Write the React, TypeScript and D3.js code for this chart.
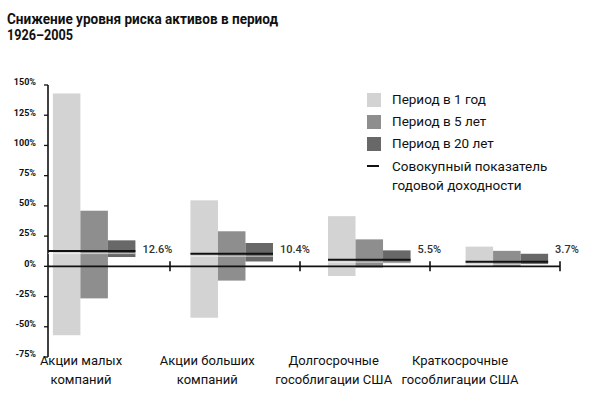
import React from "react";
import * as d3 from "d3";

const categories = ["small", "large", "longgov", "shortgov"];
const categoryLines = [
  ["Акции малых", "компаний"],
  ["Акции больших", "компаний"],
  ["Долгосрочные", "гособлигации США"],
  ["Краткосрочные", "гособлигации США"],
];
const seriesKeys = ["p1", "p5", "p20"];
const seriesNames = ["Период в 1 год", "Период в 5 лет", "Период в 20 лет"];
const seriesColors = ["#d3d3d3", "#8e8e8e", "#686868"];
const p1Max = [143, 54.6, 41.5, 16.3];
const p1Min = [-57, -42.5, -8, 0];
const p5Max = [46, 29, 22.3, 12.8];
const p5Min = [-26.5, -11.8, -1, 0.3];
const p20Max = [21.5, 19.3, 13.2, 10.4];
const p20Min = [7.7, 4, 2.7, 1.8];
const means = [12.6, 10.4, 5.5, 3.7];
const meanLabels = ["12.6%", "10.4%", "5.5%", "3.7%"];
const yTicks = [150, 125, 100, 75, 50, 25, 0, -25, -50, -75];
const legendMeanLines = ["Совокупный показатель", "годовой доходности"];
const titleLines = ["Снижение уровня риска активов в период", "1926–2005"];

const W = 592;
const H = 396;

export default function App() {
  const y = d3.scaleLinear().domain([-75, 150]).range([357, 85]);
  const axisX = 48;
  const x = d3
    .scaleBand<string>()
    .domain(categories)
    .range([46, 555])
    .paddingInner(0.4)
    .paddingOuter(0.05);
  const inner = d3.scaleBand<string>().domain(seriesKeys).range([0, x.bandwidth()]);
  const sepX = d3.scalePoint<string>().domain(categories).range([170, 560]);
  const labelX = d3.scalePoint<string>().domain(categories).range([81, 460]);
  const maxes = [p1Max, p5Max, p20Max];
  const mins = [p1Min, p5Min, p20Min];
  const font = "Roboto, 'Liberation Sans Narrow', sans-serif";
  const zeroY = y(0);
  const labelY = y(d3.max(means) as number) - 1;

  return (
    <svg width={W} height={H} style={{ position: "absolute", left: 0, top: 0, background: "#fff" }}>
      <rect width={W} height={H} fill="#fff" />
      <text x={7} y={23.5} fontFamily={font} fontWeight={700} fontSize={14} fill="#111" textLength={271} lengthAdjust="spacingAndGlyphs">
        {titleLines[0]}
      </text>
      <text x={7} y={39.5} fontFamily={font} fontWeight={700} fontSize={14} fill="#111" textLength={66} lengthAdjust="spacingAndGlyphs">
        {titleLines[1]}
      </text>

      {/* bars */}
      {categories.map((c, ci) => (
        <g key={c}>
          {seriesKeys.map((s, si) => (
            <rect
              key={s}
              x={(x(c) as number) + (inner(s) as number)}
              y={y(maxes[si][ci])}
              width={inner.bandwidth()}
              height={y(mins[si][ci]) - y(maxes[si][ci])}
              fill={seriesColors[si]}
            />
          ))}
        </g>
      ))}

      {/* y axis */}
      <line x1={axisX} x2={axisX} y1={y(150)} y2={y(-75)} stroke="#111" strokeWidth={1.6} />
      {yTicks.map((t) => (
        <g key={t}>
          <line x1={axisX - 4} x2={axisX} y1={y(t)} y2={y(t)} stroke="#111" strokeWidth={1.3} />
          <text
            x={36}
            y={y(t) - 2}
            textAnchor="end"
            dominantBaseline="middle"
            fontFamily={font}
            fontWeight={700}
            fontSize={9}
            fill="#111"
          >
            {t + "%"}
          </text>
        </g>
      ))}

      {/* zero line */}
      <line x1={axisX} x2={sepX(categories[3]) as number} y1={zeroY} y2={zeroY} stroke="#111" strokeWidth={1.6} />
      {categories.map((c) => (
        <line key={c} x1={sepX(c) as number} x2={sepX(c) as number} y1={zeroY - 5} y2={zeroY + 5} stroke="#111" strokeWidth={1.6} />
      ))}

      {/* mean lines */}
      {categories.map((c, ci) => {
        const x0 = ci === 0 ? axisX : (x(c) as number);
        const x1 = (x(c) as number) + x.bandwidth();
        return (
          <g key={c}>
            <line x1={x0} x2={x1} y1={y(means[ci]) + 2.5} y2={y(means[ci]) + 2.5} stroke="#fff" strokeOpacity={0.6} strokeWidth={1} />
            <line x1={x0} x2={x1} y1={y(means[ci])} y2={y(means[ci])} stroke="#111" strokeWidth={2} />
            <text
              x={x1 + 7}
              y={labelY}
              dominantBaseline="middle"
              fontFamily={font}
              fontWeight={500}
              fontSize={11}
              fill="#333"
            >
              {meanLabels[ci]}
            </text>
          </g>
        );
      })}

      {/* category labels */}
      {categories.map((c, ci) => (
        <text key={c} textAnchor="middle" fontFamily={font} fontSize={13} fill="#111">
          <tspan x={labelX(c) as number} y={365}>
            {categoryLines[ci][0]}
          </tspan>
          <tspan x={labelX(c) as number} y={384}>
            {categoryLines[ci][1]}
          </tspan>
        </text>
      ))}

      {/* legend */}
      {seriesNames.map((n, i) => (
        <g key={n} transform={`translate(367, ${93 + i * 22})`}>
          <rect x={0} y={0} width={14} height={14} fill={seriesColors[i]} />
          <text x={25} y={7} dominantBaseline="middle" fontFamily={font} fontSize={13.5} fill="#111">
            {n}
          </text>
        </g>
      ))}
      <line x1={367} x2={379} y1={166} y2={166} stroke="#111" strokeWidth={2} />
      <text fontFamily={font} fontSize={13.5} fill="#111">
        <tspan x={392} y={171}>
          {legendMeanLines[0]}
        </tspan>
        <tspan x={392} y={190}>
          {legendMeanLines[1]}
        </tspan>
      </text>
    </svg>
  );
}
